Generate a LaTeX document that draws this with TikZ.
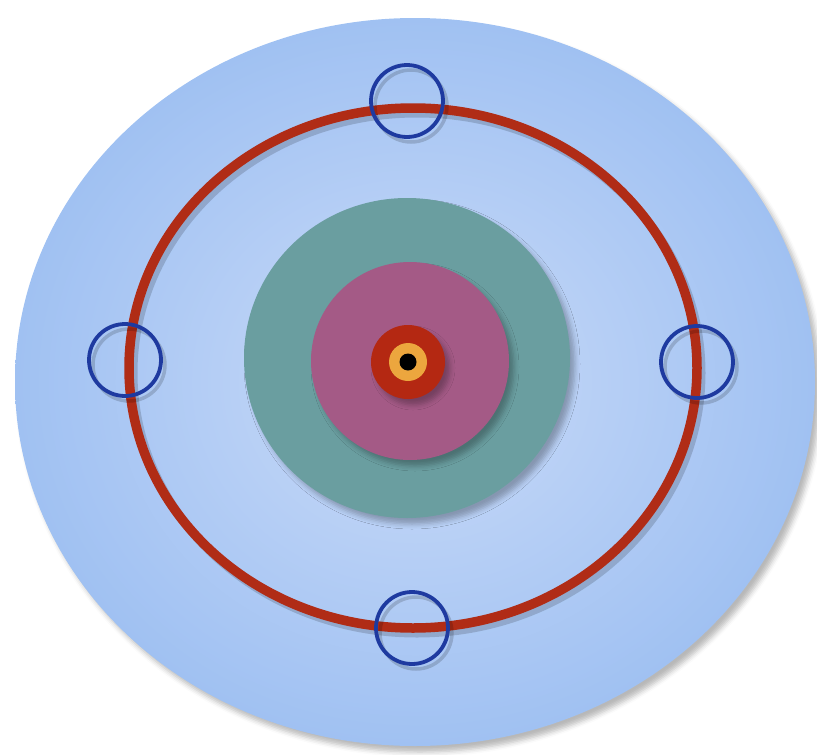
\documentclass[tikz,border=0pt]{standalone}
\usetikzlibrary{
  calc, % For coordinate calculations
  shadows.blur % For soft shadows
}

\definecolor{skyin}{RGB}{202,219,248}
\definecolor{skyout}{RGB}{160,193,242}
\definecolor{orbitred}{RGB}{176,44,22}
\definecolor{elecblue}{RGB}{30,58,160}
\definecolor{tealshell}{RGB}{106,158,160}
\definecolor{pinkshell}{RGB}{164,90,134}
\definecolor{corered}{RGB}{180,40,18}
\definecolor{coreorange}{RGB}{236,166,62}

\begin{document}
\begin{tikzpicture}[
      x=1pt, y=-1pt, % Pixel units, top left origin
      soft/.style={blur shadow={shadow xshift=5pt, shadow yshift=-6pt,
          shadow blur radius=5pt, shadow opacity=28}}, % Soft shadow
      orbit/.style={draw=orbitred, line width=9.5pt}, % Style for the orbit
      electron/.style={draw=elecblue, line width=3.8pt}, % Style for electrons
      shade ring/.style={black, opacity=0.16}, % Shadow of a ring
    ]

    % Rahmen
    \useasboundingbox (0,0) rectangle (817,755);

    % Mittelpunkte
    \coordinate (O) at (415, 382);
    \coordinate (R) at (413, 368);
    \coordinate (N) at (407, 358);

    % Hintergrund
    \shade[soft, inner color=skyin, outer color=skyout] (O) ellipse (400 and 364);

    % Schalen
    \fill[soft, tealshell] (N) ellipse (163 and 160);
    \fill[soft, pinkshell] ($(N) + (3, 3)$) circle (99);
    \fill[soft, corered] ($(N) + (1, 4)$) circle (37);
    \fill[coreorange] ($(N) + (1, 4)$) circle (19);
    \fill[black] ($(N) + (1, 4)$) circle (8.5);

    % Bahn
    \draw[shade ring, line width=9pt] ($(R) + (4, 5)$) ellipse (284 and 260);
    \draw[orbit] (R) ellipse (284 and 260);

    % Elektronen
    \coordinate (E1) at (407, 101);
    \coordinate (E2) at (125, 360);
    \coordinate (E3) at (697, 362);
    \coordinate (E4) at (412, 628);

    \foreach \e in {E1, E2, E3, E4} {
      \draw[shade ring, line width=3.5pt] ($(\e) + (4, 5)$) circle (36);
      \draw[electron] (\e) circle (36);
    }

  \end{tikzpicture}
\end{document}
